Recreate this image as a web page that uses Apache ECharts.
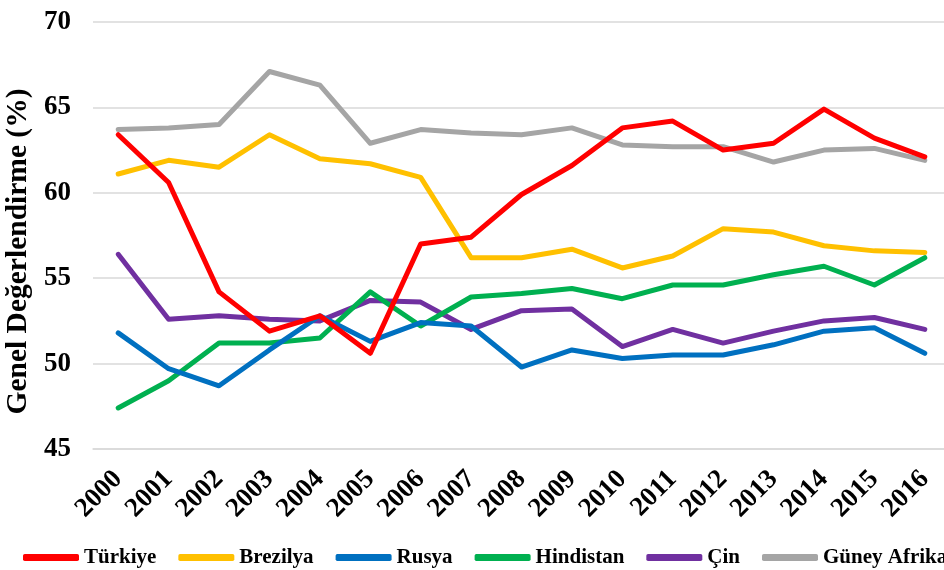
<!DOCTYPE html>
<html>
<head>
<meta charset="utf-8">
<script src="https://cdn.jsdelivr.net/npm/echarts@6/dist/echarts.min.js"></script>
<style>
  html, body { margin: 0; padding: 0; background: #fff; }
  #chart { width: 944px; height: 570px; }
</style>
</head>
<body>
<div id="chart"></div>
<script>
// yillar
var years = ['2000','2001','2002','2003','2004','2005','2006','2007','2008',
             '2009','2010','2011','2012','2013','2014','2015','2016'];

// ulke serileri
var turkiye  = [63.4,60.6,54.2,51.9,52.8,50.6,57.0,57.4,59.9,61.6,63.8,64.2,62.5,62.9,64.9,63.2,62.1];
var brezilya = [61.1,61.9,61.5,63.4,62.0,61.7,60.9,56.2,56.2,56.7,55.6,56.3,57.9,57.7,56.9,56.6,56.5];
var rusya    = [51.8,49.7,48.7,50.8,52.8,51.3,52.4,52.2,49.8,50.8,50.3,50.5,50.5,51.1,51.9,52.1,50.6];
var hindistan= [47.4,49.0,51.2,51.2,51.5,54.2,52.2,53.9,54.1,54.4,53.8,54.6,54.6,55.2,55.7,54.6,56.2];
var cin      = [56.4,52.6,52.8,52.6,52.5,53.7,53.6,52.0,53.1,53.2,51.0,52.0,51.2,51.9,52.5,52.7,52.0];
var guneyAfrika = [63.7,63.8,64.0,67.1,66.3,62.9,63.7,63.5,63.4,63.8,62.8,62.7,62.7,61.8,62.5,62.6,61.9];

var seriesNames = ['Türkiye','Brezilya','Rusya','Hindistan','Çin','Güney Afrika'];
var seriesData = [turkiye, brezilya, rusya, hindistan, cin, guneyAfrika];
var colors = ['#FF0000','#FFC000','#0070C0','#00B050','#7030A0','#A5A5A5'];

var font = '"Liberation Serif","Times New Roman",serif';

var chart = echarts.init(document.getElementById('chart'));

var series = seriesNames.map(function(name, i){
	return {
		name: name,
		type: 'line',
		data: seriesData[i],
		symbol: 'none',
		lineStyle: { width: 5, color: colors[i], cap: 'round', join: 'round' },
		itemStyle: { color: colors[i] },
		z: 10 - i
	};
});

var option = {
	animation: false,
	backgroundColor: '#fff',
	grid: { left: 93, top: 22, width: 857, height: 427, containLabel: false, outerBoundsMode: 'none' },
	legend: {
		left: 18,
		top: 542,
		width: 1100,
		itemGap: 22,
		itemWidth: 56,
		itemHeight: 7,
		icon: 'roundRect',
		textStyle: { fontFamily: font, fontWeight: 'bold', fontSize: 21, color: '#000' },
		data: seriesNames
	},
	xAxis: {
		type: 'category',
		data: years,
		boundaryGap: true,
		axisLine: { lineStyle: { color: '#d9d9d9', width: 1.5 } },
		axisTick: { alignWithLabel: true, length: 6, lineStyle: { color: '#d9d9d9', width: 1.5 } },
		axisLabel: { rotate: 45, margin: 26, interval: 0, color: '#000',
			fontFamily: font, fontWeight: 'bold', fontSize: 27 }
	},
	yAxis: {
		type: 'value',
		min: 45, max: 70, interval: 5,
		name: 'Genel Değerlendirme (%)',
		nameLocation: 'middle',
		nameGap: 50,
		nameTextStyle: { fontFamily: font, fontWeight: 'bold', fontSize: 29.5, color: '#000',
			padding: [0, 32, 0, 0] },
		axisLine: { show: false },
		axisTick: { show: false },
		axisLabel: { margin: 22, color: '#000', fontFamily: font, fontWeight: 'bold', fontSize: 27 },
		splitLine: { lineStyle: { color: '#d9d9d9', width: 1.5 } }
	},
	series: series
};
chart.setOption(option);
</script>
</body>
</html>
